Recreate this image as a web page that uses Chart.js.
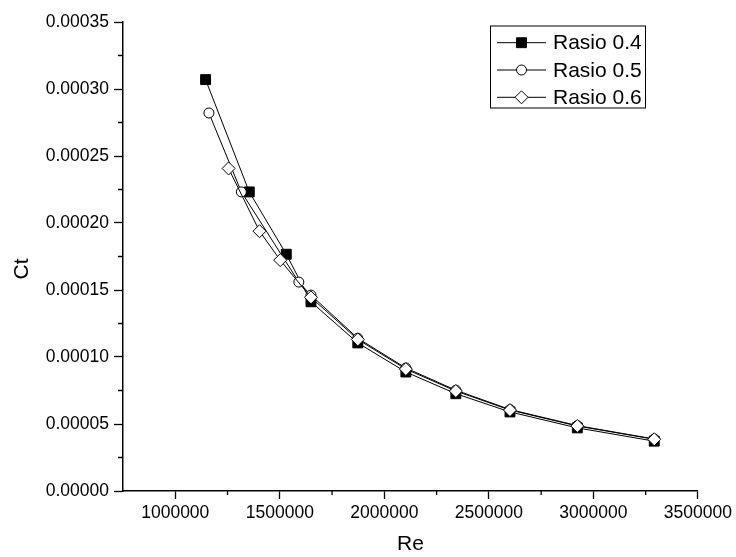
<!DOCTYPE html>
<html>
<head>
<meta charset="utf-8">
<script src="https://cdn.jsdelivr.net/npm/chart.js@4.4.1/dist/chart.umd.min.js"></script>
<style>
  html, body { margin: 0; padding: 0; background: #fff; }
  #wrap { width: 736px; height: 557px; }
</style>
</head>
<body>
<div id="wrap"><canvas id="ct-chart" width="736" height="557"></canvas></div>
<script>
const seriesNames = ['Rasio 0.4', 'Rasio 0.5', 'Rasio 0.6'];

const reRasio04 = [1145000, 1354000, 1531000, 1649000, 1873000, 2103000, 2342000, 2601000, 2923000, 3291000];
const ctRasio04 = [0.0003070, 0.0002232, 0.0001767, 0.0001412, 0.0001105, 0.0000888, 0.0000726, 0.0000590, 0.0000471, 0.0000372];

const reRasio05 = [1161000, 1316000, 1591000, 1649000, 1873000, 2103000, 2342000, 2601000, 2923000, 3291000];
const ctRasio05 = [0.0002821, 0.0002232, 0.0001559, 0.0001462, 0.0001140, 0.0000918, 0.0000752, 0.0000608, 0.0000488, 0.0000388];

const reRasio06 = [1255000, 1403000, 1502000, 1649000, 1873000, 2103000, 2342000, 2601000, 2923000, 3291000];
const ctRasio06 = [0.0002407, 0.0001939, 0.0001723, 0.0001445, 0.0001131, 0.0000910, 0.0000746, 0.0000604, 0.0000485, 0.0000386];

const xTicks = [1000000, 1500000, 2000000, 2500000, 3000000, 3500000];
const yTicks = [0, 0.00005, 0.00010, 0.00015, 0.00020, 0.00025, 0.00030, 0.00035];

const xTitle = 'Re';
const yTitle = 'Ct';

const fontFamily = "'Liberation Sans', Arial, sans-serif";
Chart.defaults.font.family = fontFamily;
Chart.defaults.color = '#000';

function toPoints(xs, ys) {
  return xs.map((x, i) => ({ x: x, y: ys[i] }));
}

function makeDataset(label, xs, ys, style, radius, fillColor, order) {
  return {
    label: label,
    data: toPoints(xs, ys),
    borderColor: '#000',
    borderWidth: 1,
    tension: 0,
    fill: false,
    pointStyle: style,
    pointRadius: radius,
    pointBackgroundColor: fillColor,
    pointBorderColor: '#000',
    pointBorderWidth: 1,
    order: order
  };
}

// minor ticks halfway between the major ones, axis title on the left, boxed legend
const extrasPlugin = {
  id: 'extras',
  afterDraw(chart) {
    const ctx = chart.ctx;
    const xs = chart.scales.x;
    const ys = chart.scales.y;

    ctx.save();
    ctx.strokeStyle = '#000';
    ctx.lineWidth = 1.3;
    ctx.beginPath();
    for (let i = 0; i < xs.ticks.length - 1; i++) {
      let px = xs.getPixelForValue((xs.ticks[i].value + xs.ticks[i + 1].value) / 2);
      ctx.moveTo(px, xs.top);
      ctx.lineTo(px, xs.top + 4);
    }
    for (let i = 0; i < ys.ticks.length - 1; i++) {
      let py = ys.getPixelForValue((ys.ticks[i].value + ys.ticks[i + 1].value) / 2);
      ctx.moveTo(ys.right, py);
      ctx.lineTo(ys.right - 5, py);
    }
    ctx.stroke();

    ctx.fillStyle = '#000';
    ctx.font = '21px ' + fontFamily;
    ctx.textAlign = 'center';
    ctx.textBaseline = 'middle';
    ctx.translate(22.5, 269);
    ctx.rotate(-Math.PI / 2);
    ctx.fillText(yTitle, 0, 0);
    ctx.restore();

    // legend
    const box = { x: 490.5, y: 26, w: 155, h: 82 };
    ctx.save();
    ctx.strokeStyle = '#000';
    ctx.lineWidth = 1;
    ctx.strokeRect(box.x, box.y, box.w, box.h);
    ctx.font = '21px ' + fontFamily;
    ctx.textBaseline = 'middle';
    ctx.textAlign = 'left';
    chart.data.datasets.forEach((ds, i) => {
      let rowY = 42.7 + i * 27.3;
      ctx.beginPath();
      ctx.moveTo(497, rowY);
      ctx.lineTo(546, rowY);
      ctx.strokeStyle = '#000';
      ctx.stroke();
      ctx.fillStyle = ds.pointBackgroundColor;
      ctx.strokeStyle = '#000';
      Chart.helpers.drawPoint(ctx, {
        pointStyle: ds.pointStyle,
        radius: ds.pointRadius,
        borderWidth: 1,
        rotation: 0
      }, 521.5, rowY);
      ctx.fillStyle = '#000';
      ctx.fillText(ds.label, 553, rowY + 1);
    });
    ctx.restore();
  }
};

const ctx = document.getElementById('ct-chart');
new Chart(ctx, {
  type: 'line',
  data: {
    datasets: [
      makeDataset(seriesNames[0], reRasio04, ctRasio04, 'rect', 7, '#000', 2),
      makeDataset(seriesNames[1], reRasio05, ctRasio05, 'circle', 5, '#fff', 1),
      makeDataset(seriesNames[2], reRasio06, ctRasio06, 'rectRot', 6.5, '#fff', 0)
    ]
  },
  options: {
    responsive: false,
    animation: false,
    devicePixelRatio: 1,
    layout: {
      padding: { top: 22, right: 38, bottom: 0, left: 0 }
    },
    plugins: {
      legend: { display: false },
      tooltip: { enabled: false }
    },
    scales: {
      x: {
        type: 'linear',
        min: 750000,
        max: 3500000,
        afterBuildTicks: (scale) => {
          scale.ticks = xTicks.map(v => ({ value: v }));
        },
        afterFit: (scale) => { scale.height = 66; },
        border: { display: true, color: '#000', width: 1.5 },
        grid: {
          display: true,
          drawOnChartArea: false,
          drawTicks: true,
          tickLength: 8,
          tickColor: '#000',
          tickWidth: 1.3
        },
        ticks: {
          autoSkip: false,
          maxRotation: 0,
          padding: 4,
          font: { size: 17.5 },
          callback: (v) => v.toFixed(0)
        },
        title: {
          display: true,
          text: xTitle,
          font: { size: 21 },
          padding: { top: 0, bottom: 0 }
        }
      },
      y: {
        min: 0,
        max: 0.00035,
        afterBuildTicks: (scale) => {
          scale.ticks = yTicks.map(v => ({ value: v }));
        },
        afterFit: (scale) => { scale.width = 123; },
        border: { display: true, color: '#000', width: 1.5 },
        grid: {
          display: true,
          drawOnChartArea: false,
          drawTicks: true,
          tickLength: 9,
          tickColor: '#000',
          tickWidth: 1.3
        },
        ticks: {
          autoSkip: false,
          padding: 5,
          font: { size: 17.5 },
          callback: (v) => v.toFixed(5)
        },
        title: { display: false }
      }
    }
  },
  plugins: [extrasPlugin]
});
</script>
</body>
</html>
